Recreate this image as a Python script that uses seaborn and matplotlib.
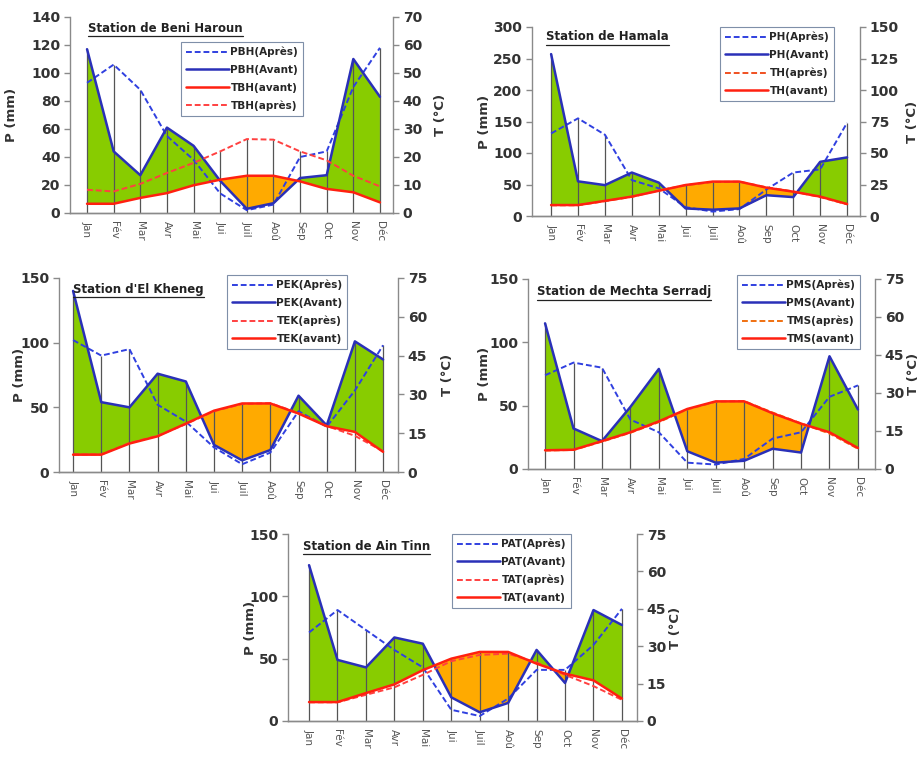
import matplotlib
matplotlib.use('Agg')
import numpy as np
import pandas as pd
import matplotlib.pyplot as plt
import seaborn as sns
from matplotlib.lines import Line2D

W, H = 923, 758

MONTHS = ['Jan', 'Fév', 'Mar', 'Avr', 'Mai', 'Jui', 'Juil', 'Aoû',
          'Sep', 'Oct', 'Nov', 'Déc']

# Station de Beni Haroun
PBH_APRES = [93, 106, 88, 55, 38, 14, 2, 6, 40, 44, 90, 118]
PBH_AVANT = [117, 44, 27, 61, 48, 23, 3, 7, 25, 27, 110, 83]
TBH_AVANT = [3.3, 3.3, 5.4, 7.1, 9.9, 11.9, 13.3, 13.3, 11.3, 8.6, 7.4, 3.8]
TBH_APRES = [8.3, 7.7, 10.4, 14.3, 17.9, 22.0, 26.4, 26.2, 22.0, 18.8, 13.3, 9.5]

# Station de Hamala
PH_APRES = [131, 155, 129, 57, 44, 14, 7, 11, 42, 69, 74, 148]
PH_AVANT = [257, 55, 49, 69, 53, 12, 10, 12, 33, 30, 86, 93]
TH_APRES = [8.5, 8.5, 11.8, 15.2, 20.3, 24.4, 27.0, 27.2, 22.8, 19.5, 15.0, 9.3]
TH_AVANT = [8.7, 8.7, 12.0, 15.4, 20.0, 24.6, 27.3, 27.3, 22.5, 19.3, 15.4, 9.5]

# Station d'El Kheneg
PEK_APRES = [102, 90, 95, 52, 39, 19, 6, 15, 47, 35, 63, 98]
PEK_AVANT = [140, 54, 50, 76, 70, 21, 9, 17, 59, 36, 101, 87]
TEK_APRES = [6.8, 6.8, 11.2, 14.0, 18.5, 23.5, 26.3, 26.6, 22.8, 17.8, 14.0, 8.0]
TEK_AVANT = [6.7, 6.7, 11.0, 13.8, 18.7, 23.7, 26.5, 26.5, 22.6, 17.7, 15.5, 7.8]

# Station de Mechta Serradj
PMS_APRES = [74, 84, 80, 39, 29, 5, 3.5, 8, 24, 29, 57, 66]
PMS_AVANT = [115, 32, 22, 49, 79, 14, 5, 6.5, 16, 13, 89, 47]
TMS_APRES = [7.3, 7.5, 10.8, 14.3, 18.5, 23.5, 26.5, 26.8, 22.3, 18.0, 14.0, 8.0]
TMS_AVANT = [7.4, 7.6, 11.0, 14.5, 18.8, 23.7, 26.7, 26.7, 22.0, 17.9, 14.5, 8.3]

# Station de Ain Tinn
PAT_APRES = [71, 89, 73, 57, 43, 9, 4, 18, 41, 41, 61, 90]
PAT_AVANT = [125, 49, 43, 67, 62, 19, 7, 14.5, 57, 30.5, 89, 77]
TAT_APRES = [7.5, 7.5, 10.5, 13.5, 18.5, 24.0, 26.5, 27.0, 23.5, 18.5, 14.0, 8.5]
TAT_AVANT = [7.6, 7.6, 11.2, 14.7, 20.4, 25.0, 27.7, 27.7, 23.0, 19.0, 16.3, 9.0]

STATIONS = [
    dict(title='Station de Beni Haroun', p_ap=PBH_APRES, p_av=PBH_AVANT,
         t_ap=TBH_APRES, t_av=TBH_AVANT,
         names=['PBH(Après)', 'PBH(Avant)', 'TBH(avant)', 'TBH(après)'],
         order=['p_ap', 'p_av', 't_av', 't_ap'],
         box=(70, 17, 393, 213), xlim=(-0.64, 11.49), pmax=140, pstep=20,
         leg=(181, 42), ttl=(88, 28), plab=12, tlab=440,
         t_ap_color='#FF4040'),
    dict(title='Station de Hamala', p_ap=PH_APRES, p_av=PH_AVANT,
         t_ap=TH_APRES, t_av=TH_AVANT,
         names=['PH(Après)', 'PH(Avant)', 'TH(après)', 'TH(avant)'],
         order=['p_ap', 'p_av', 't_ap', 't_av'],
         box=(532, 27, 860, 216), xlim=(-0.71, 11.48), pmax=300, pstep=50,
         leg=(720, 27), ttl=(546, 37), plab=485, tlab=912,
         t_ap_color='#F05020'),
    dict(title="Station d'El Kheneg", p_ap=PEK_APRES, p_av=PEK_AVANT,
         t_ap=TEK_APRES, t_av=TEK_AVANT,
         names=['PEK(Après)', 'PEK(Avant)', 'TEK(après)', 'TEK(avant)'],
         order=['p_ap', 'p_av', 't_ap', 't_av'],
         box=(59, 278, 398, 472), xlim=(-0.5, 11.53), pmax=150, pstep=50,
         leg=(227, 275), ttl=(73, 290), plab=20, tlab=447,
         t_ap_color='#FF4040'),
    dict(title='Station de Mechta Serradj', p_ap=PMS_APRES, p_av=PMS_AVANT,
         t_ap=TMS_APRES, t_av=TMS_AVANT,
         names=['PMS(Après)', 'PMS(Avant)', 'TMS(après)', 'TMS(avant)'],
         order=['p_ap', 'p_av', 't_ap', 't_av'],
         box=(528, 279, 875, 469), xlim=(-0.6, 11.6), pmax=150, pstep=50,
         leg=(737, 275), ttl=(537, 292), plab=485, tlab=913,
         t_ap_color='#F07010'),
    dict(title='Station de Ain Tinn', p_ap=PAT_APRES, p_av=PAT_AVANT,
         t_ap=TAT_APRES, t_av=TAT_AVANT,
         names=['PAT(Après)', 'PAT(Avant)', 'TAT(après)', 'TAT(avant)'],
         order=['p_ap', 'p_av', 't_ap', 't_av'],
         box=(288, 534, 637, 721), xlim=(-0.74, 11.53), pmax=150, pstep=50,
         leg=(452, 534), ttl=(303, 546), plab=251, tlab=675,
         t_ap_color='#FF4040'),
]

GREEN = '#88CC00'
ORANGE = '#FFAA00'
BLUE = '#2A30B8'
BLUE_D = '#3040E0'
RED = '#FF2010'
GRID = '#555555'
SPINE = '#8A8A8A'
TXT = '#333333'


def draw_station(fig, st):
    l, t, r, b = st['box']
    ax = fig.add_axes([l / W, 1 - b / H, (r - l) / W, (b - t) / H])
    ax2 = ax.twinx()
    x = np.arange(len(MONTHS))
    df = pd.DataFrame({'x': x, 'p_ap': st['p_ap'], 'p_av': st['p_av'],
                       't_ap': st['t_ap'], 't_av': st['t_av']})
    p_av = df['p_av'].to_numpy(float)
    t2 = 2 * df['t_av'].to_numpy(float)

    ax.fill_between(x, p_av, t2, where=p_av >= t2, interpolate=True,
                    color=GREEN, lw=0, zorder=1)
    ax.fill_between(x, p_av, t2, where=p_av <= t2, interpolate=True,
                    color=ORANGE, lw=0, zorder=1)
    top = np.maximum.reduce([df['p_ap'], df['p_av'],
                             2 * df['t_ap'], 2 * df['t_av']])
    ax.vlines(x, 0, top, color=GRID, lw=0.9, zorder=2)

    handles = {}
    sns.lineplot(data=df, x='x', y='p_ap', ax=ax, color=BLUE_D, lw=1.4,
                 linestyle=(0, (3, 1.5)), zorder=4)
    handles['p_ap'] = ax.lines[-1]
    sns.lineplot(data=df, x='x', y='p_av', ax=ax, color=BLUE, lw=1.8,
                 zorder=4)
    handles['p_av'] = ax.lines[-1]
    sns.lineplot(data=df, x='x', y='t_ap', ax=ax2, color=st['t_ap_color'],
                 lw=1.4, linestyle=(0, (3, 1.5)), zorder=3)
    handles['t_ap'] = ax2.lines[-1]
    sns.lineplot(data=df, x='x', y='t_av', ax=ax2, color=RED, lw=1.8,
                 zorder=3)
    handles['t_av'] = ax2.lines[-1]

    pmax = st['pmax']
    ax.set_xlim(*st['xlim'])
    ax.set_ylim(0, pmax)
    ax2.set_ylim(0, pmax / 2)
    ax.set_yticks(np.arange(0, pmax + 1, st['pstep']))
    tstep = st['pstep'] / 2 if pmax != 150 else 15
    ax2.set_yticks(np.arange(0, pmax / 2 + 0.1, tstep))
    ax2.set_yticklabels([f'{v:g}' for v in ax2.get_yticks()])
    ax.set_xticks(x)
    ax.set_xticklabels(MONTHS, rotation=270, fontsize=7.5, color='#555555')

    for a in (ax, ax2):
        for s in a.spines.values():
            s.set_color(SPINE)
            s.set_linewidth(1)
        a.spines['top'].set_visible(False)
        a.tick_params(axis='y', colors=SPINE, length=4, width=1,
                      labelcolor=TXT, labelsize=10, pad=3)
        for lab in a.get_yticklabels():
            lab.set_fontweight('bold')
        a.set_xlabel('')
    ax.spines['right'].set_visible(False)
    ax2.spines['left'].set_visible(False)
    ax.tick_params(axis='x', direction='inout', length=6, width=1,
                   colors=SPINE, labelcolor='#555555', pad=3)

    # label coordinates: centre pixel -> axes fraction, rotated text anchor
    ax.set_ylabel('P (mm)', fontsize=9.5, fontweight='bold', color=TXT)
    ax.yaxis.set_label_coords((st['plab'] + 6 - l) / (r - l), 0.5)
    ax2.set_ylabel('T (°C)', fontsize=9.5, fontweight='bold', color=TXT)
    ax2.yaxis.set_label_coords((st['tlab'] - 6 - l) / (r - l), 0.5)

    hs = [handles[k] for k in st['order']]
    lx, ly = st['leg']
    leg = ax2.legend(hs, st['names'], loc='upper left',
                     bbox_to_anchor=(lx / W, 1 - ly / H),
                     bbox_transform=fig.transFigure, borderaxespad=0,
                     fancybox=False, edgecolor='#7F8FA8', framealpha=1,
                     prop={'size': 7.5, 'weight': 'bold'}, handlelength=4.2,
                     handletextpad=0.1, labelspacing=0.75, borderpad=0.45)
    leg.get_frame().set_linewidth(0.8)

    tx, ty = st['ttl']
    txt = fig.text(tx / W, 1 - ty / H, st['title'], fontsize=8.5,
                   fontweight='bold', color='#222222', va='center', ha='left')
    return txt


def main():
    sns.set_theme(style='white')
    plt.rcParams['font.family'] = ['DejaVu Sans']
    fig = plt.figure(figsize=(W / 100, H / 100), dpi=100)
    titles = [draw_station(fig, st) for st in STATIONS]

    fig.canvas.draw()
    rend = fig.canvas.get_renderer()
    for txt in titles:
        bb = txt.get_window_extent(rend)
        y = (bb.y0 - 1) / H
        fig.add_artist(Line2D([bb.x0 / W, bb.x1 / W], [y, y],
                              color='#222222', lw=0.9))
    fig.savefig('out.png', dpi=100)


if __name__ == '__main__':
    main()
